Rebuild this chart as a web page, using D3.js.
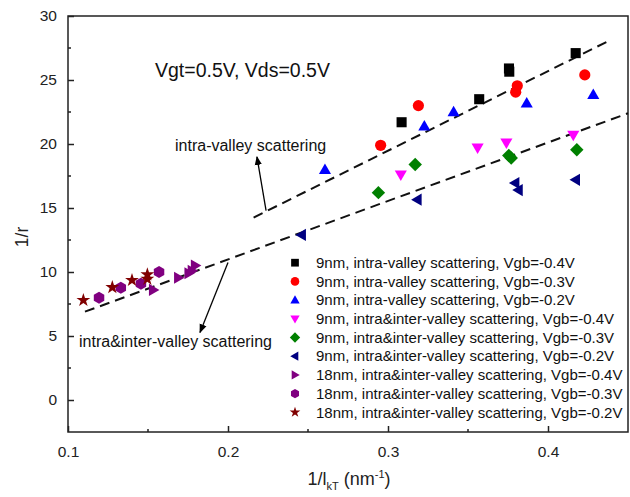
<!DOCTYPE html>
<html>
<head>
<meta charset="utf-8">
<script src="https://cdn.jsdelivr.net/npm/d3@7"></script>
<style>
  body { margin: 0; background: #fff; }
  svg { font-family: "Liberation Sans", Arial, sans-serif; }
</style>
</head>
<body>
<svg id="chart" width="630" height="497"></svg>
<script>
// data: [1/lkT (nm^-1), 1/r]
const sq9_04  = [[0.3085, 21.7], [0.357, 23.5], [0.3756, 25.9], [0.3758, 25.65], [0.4173, 27.1]];
const ci9_03  = [[0.2954, 19.9], [0.319, 23.0], [0.3808, 24.55], [0.3798, 24.05], [0.423, 25.4]];
const tu9_02  = [[0.2606, 18.0], [0.3227, 21.4], [0.341, 22.5], [0.3867, 23.2], [0.4283, 23.85]];
const td9_04  = [[0.308, 17.6], [0.356, 19.7], [0.374, 20.1], [0.4158, 20.7]];
const di9_03  = [[0.294, 16.2], [0.317, 18.4], [0.3755, 19.1], [0.377, 18.9], [0.418, 19.55]];
const tl9_02  = [[0.246, 12.9], [0.3183, 15.65], [0.3794, 16.95], [0.3815, 16.4], [0.4173, 17.2]];
const tr18_04 = [[0.1533, 8.6], [0.169, 9.55], [0.1755, 9.9], [0.1775, 10.1], [0.1795, 10.5]];
const hx18_03 = [[0.1194, 7.99], [0.133, 8.77], [0.1456, 9.08], [0.1569, 10.0]];
const st18_02 = [[0.1096, 7.8], [0.1277, 8.8], [0.140, 9.36], [0.1496, 9.8], [0.1496, 9.45]];

const seriesNames = [
  '9nm, intra-valley scattering, Vgb=-0.4V',
  '9nm, intra-valley scattering, Vgb=-0.3V',
  '9nm, intra-valley scattering, Vgb=-0.2V',
  '9nm, intra&inter-valley scattering, Vgb=-0.4V',
  '9nm, intra&inter-valley scattering, Vgb=-0.3V',
  '9nm, intra&inter-valley scattering, Vgb=-0.2V',
  '18nm, intra&inter-valley scattering, Vgb=-0.4V',
  '18nm, intra&inter-valley scattering, Vgb=-0.3V',
  '18nm, intra&inter-valley scattering, Vgb=-0.2V'
];
const seriesData = [sq9_04, ci9_03, tu9_02, td9_04, di9_03, tl9_02, tr18_04, hx18_03, st18_02];
const seriesShape = ['square', 'circle', 'up', 'down', 'diamond', 'left', 'right', 'hexagon', 'star'];
const seriesColor = ['#000000', '#ff0000', '#0000ff', '#ff00ff', '#008000', '#000080', '#800080', '#800080', '#800000'];

// dashed guide lines
const fitIntra = [[0.216, 14.25], [0.438, 28.06]];
const fitInter = [[0.1106, 6.9], [0.45, 22.4]];

const xTicks = [0.1, 0.2, 0.3, 0.4];
const yTicks = [0, 5, 10, 15, 20, 25, 30];

const width = 630, height = 497;
const margin = { top: 16, right: 2, bottom: 65, left: 68 };

const svg = d3.select('#chart');

const xScale = d3.scaleLinear()
  .domain([0.1, 0.45])
  .range([margin.left, width - margin.right]);
const yScale = d3.scaleLinear()
  .domain([-2.5, 30])
  .range([height - margin.bottom, margin.top]);

const shapePath = (type, r) => {
  const p = d3.path();
  const poly = (pts) => {
    pts.forEach((q, i) => i ? p.lineTo(q[0], q[1]) : p.moveTo(q[0], q[1]));
    p.closePath();
  };
  const ang = (n, a0, rad) => d3.range(n).map(i => {
    const a = a0 + i * 2 * Math.PI / n;
    return [rad * Math.cos(a), rad * Math.sin(a)];
  });
  if (type === 'square') {
    const s = r * 0.9;
    poly([[-s, -s], [s, -s], [s, s], [-s, s]]);
  } else if (type === 'circle') {
    p.arc(0, 0, r, 0, 2 * Math.PI);
  } else if (type === 'up') {
    poly(ang(3, -Math.PI / 2, r * 1.25).map(q => [q[0], q[1] + r * 0.15]));
  } else if (type === 'down') {
    poly(ang(3, Math.PI / 2, r * 1.25).map(q => [q[0], q[1] - r * 0.15]));
  } else if (type === 'left') {
    poly(ang(3, Math.PI, r * 1.25).map(q => [q[0] + r * 0.15, q[1]]));
  } else if (type === 'right') {
    poly(ang(3, 0, r * 1.25).map(q => [q[0] - r * 0.15, q[1]]));
  } else if (type === 'diamond') {
    const s = r * 1.2;
    poly([[0, -s], [s, 0], [0, s], [-s, 0]]);
  } else if (type === 'hexagon') {
    poly(ang(6, -Math.PI / 2, r * 1.08));
  } else if (type === 'star') {
    const pts = [];
    for (let i = 0; i < 10; i++) {
      const a = -Math.PI / 2 + i * Math.PI / 5;
      const rr = i % 2 ? r * 0.5 : r * 1.3;
      pts.push([rr * Math.cos(a), rr * Math.sin(a)]);
    }
    poly(pts);
  }
  return p.toString();
};

// frame
svg.append('rect')
  .attr('x', margin.left)
  .attr('y', margin.top)
  .attr('width', width - margin.left - margin.right)
  .attr('height', height - margin.top - margin.bottom)
  .attr('fill', 'none')
  .attr('stroke', '#222')
  .attr('stroke-width', 1.5);

// axes with inward ticks
const xAxis = d3.axisBottom(xScale)
  .tickValues(xTicks)
  .tickFormat(d3.format('.1f'))
  .tickSizeInner(-6)
  .tickSizeOuter(0)
  .tickPadding(14);
const gx = svg.append('g')
  .attr('transform', 'translate(0,' + (height - margin.bottom) + ')')
  .call(xAxis);
gx.select('.domain').remove();
gx.selectAll('line').attr('stroke', '#222').attr('stroke-width', 1.5);
gx.selectAll('text').attr('font-size', 15.5).attr('fill', '#222');
gx.selectAll('.minor')
  .data([0.15, 0.25, 0.35])
  .enter()
  .append('line')
  .attr('x1', d => xScale(d)).attr('x2', d => xScale(d))
  .attr('y1', 0).attr('y2', -3)
  .attr('stroke', '#222').attr('stroke-width', 1.5);

const yAxis = d3.axisLeft(yScale)
  .tickValues(yTicks)
  .tickSizeInner(-6)
  .tickSizeOuter(0)
  .tickPadding(11);
const gy = svg.append('g')
  .attr('transform', 'translate(' + margin.left + ',0)')
  .call(yAxis);
gy.select('.domain').remove();
gy.selectAll('line').attr('stroke', '#222').attr('stroke-width', 1.5);
gy.selectAll('text').attr('font-size', 15.5).attr('fill', '#222');
gy.selectAll('.minor')
  .data([2.5, 7.5, 12.5, 17.5, 22.5, 27.5])
  .enter()
  .append('line')
  .attr('y1', d => yScale(d)).attr('y2', d => yScale(d))
  .attr('x1', 0).attr('x2', 3)
  .attr('stroke', '#222').attr('stroke-width', 1.5);

// axis titles
svg.append('text')
  .attr('transform', 'translate(28,237) rotate(-90)')
  .attr('text-anchor', 'middle')
  .attr('font-size', 17.5)
  .attr('fill', '#222')
  .text('1/r');

const xt = svg.append('text')
  .attr('x', (margin.left + width - margin.right) / 2 + 1)
  .attr('y', 485)
  .attr('text-anchor', 'middle')
  .attr('font-size', 18)
  .attr('fill', '#222');
xt.append('tspan').text('1/l');
xt.append('tspan').attr('font-size', 11).attr('dy', 5).text('kT');
xt.append('tspan').attr('dy', -5).text(' (nm');
xt.append('tspan').attr('font-size', 11).attr('dy', -7).text('-1');
xt.append('tspan').attr('dy', 7).text(')');

// dashed lines
const line = d3.line().x(d => xScale(d[0])).y(d => yScale(d[1]));
[fitIntra, fitInter].forEach(f => {
  svg.append('path')
    .attr('d', line(f))
    .attr('fill', 'none')
    .attr('stroke', '#111')
    .attr('stroke-width', 2)
    .attr('stroke-dasharray', '10,6');
});

// markers
seriesData.forEach((data, i) => {
  svg.append('g')
    .selectAll('path')
    .data(data)
    .enter()
    .append('path')
    .attr('d', shapePath(seriesShape[i], 5.6))
    .attr('transform', d => 'translate(' + xScale(d[0]) + ',' + yScale(d[1]) + ')')
    .attr('fill', seriesColor[i]);
});

// annotations
svg.append('defs').append('marker')
  .attr('id', 'arrow')
  .attr('viewBox', '0 0 10 10')
  .attr('refX', 9).attr('refY', 5)
  .attr('markerWidth', 7).attr('markerHeight', 7)
  .attr('orient', 'auto')
  .append('path')
  .attr('d', 'M0,1 L10,5 L0,9 z')
  .attr('fill', '#000');

const arrows = [
  [[0.2238, 14.8], [0.2181, 19.0]],
  [[0.2, 10.74], [0.1825, 5.28]]
];
arrows.forEach(a => {
  svg.append('line')
    .attr('x1', xScale(a[0][0])).attr('y1', yScale(a[0][1]))
    .attr('x2', xScale(a[1][0])).attr('y2', yScale(a[1][1]))
    .attr('stroke', '#000')
    .attr('stroke-width', 1.3)
    .attr('marker-end', 'url(#arrow)');
});

svg.append('text')
  .attr('x', 155).attr('y', 77)
  .attr('font-size', 19.5)
  .attr('fill', '#111')
  .text('Vgt=0.5V, Vds=0.5V');
svg.append('text')
  .attr('x', 175).attr('y', 151)
  .attr('font-size', 16)
  .attr('fill', '#111')
  .text('intra-valley scattering');
svg.append('text')
  .attr('x', 79).attr('y', 347)
  .attr('font-size', 16)
  .attr('fill', '#111')
  .text('intra&inter-valley scattering');

// legend
const legend = svg.append('g');
seriesNames.forEach((name, i) => {
  const y = 262.7 + i * 18.7;
  legend.append('path')
    .attr('d', shapePath(seriesShape[i], 4.3))
    .attr('transform', 'translate(295,' + y + ')')
    .attr('fill', seriesColor[i]);
  legend.append('text')
    .attr('x', 316)
    .attr('y', y)
    .attr('dy', '0.35em')
    .attr('font-size', 15)
    .attr('fill', '#111')
    .text(name);
});
</script>
</body>
</html>
